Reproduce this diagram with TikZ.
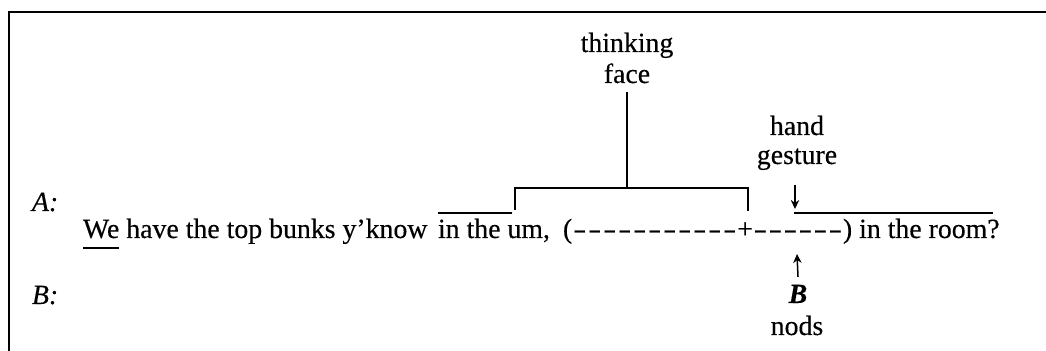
\documentclass[tikz,border=0pt]{standalone}
\usepackage{fontspec}
\setmainfont{Liberation Serif}[FakeBold=0.35]
\usepackage{graphicx}
\usetikzlibrary{arrows.meta,calc}
\newcommand{\dsh}{\makebox[7.5pt]{\scalebox{0.72}[1]{\textbf{\textendash}}}}
\begin{document}
\begin{tikzpicture}[x=0.5pt,y=-0.5pt,
  txt/.style={inner sep=0pt, outer sep=0pt, anchor=base west, font=\fontsize{13.9pt}{15.5pt}\selectfont},
  lbl/.style={inner sep=0pt, outer sep=0pt, anchor=base, font=\fontsize{13.9pt}{15.5pt}\selectfont},
  frame/.style={line width=1pt},
  bar/.style={line width=0.65pt},
  arr/.style={-{Stealth[length=4.5pt,width=4.2pt]}, line width=0.75pt}]
\useasboundingbox (0,0) rectangle (1046,351);
% frame
\coordinate (ftr) at (1046,12);
\coordinate (ftl) at (9,12);
\coordinate (fbl) at (9,351);
\draw[frame] (ftr) -- (ftl) -- (fbl);
% speaker labels
\node[txt] (A) at (32,211) {\textit{A:}};
\node[txt] (B) at (32,304) {\textit{B:}};
% main line
\node[txt] (we) at (83,238) {We};
\node[txt] (s2) at (we.base east) {\ have the top bunks y'know};
\node[txt] (inthe) at (438,238) {in the};
\node[txt] (um) at (inthe.base east) {\ um,};
\node[txt] (lp) at (563,238) {(};
\node[txt] (dA) at (lp.base east) {\dsh\dsh\dsh\dsh\dsh\dsh\dsh\dsh\dsh\dsh\dsh};
\node[txt] (plus) at (dA.base east) {+};
\node[txt] (dB) at (plus.base east) {\dsh\dsh\dsh\dsh\dsh\dsh};
\node[txt] (rp) at (dB.base east) {)};
\node[txt] (room) at (rp.base east) {\ in the room?};
% underline of We
\draw[bar] ($(we.base west)+(0,10)$) -- ($(we.base east)+(0,10)$);
% overline and bracket
\coordinate (ol1) at (438,213);
\coordinate (ol2) at (512,213);
\draw[bar] (ol1) -- (ol2);
\coordinate (brl) at (515,210);
\coordinate (brtl) at (515,188);
\coordinate (brtop) at (627,188);
\coordinate (brtr) at (748,188);
\coordinate (brr) at (748,211);
\draw[bar] (brl) -- (brtl) -- (brtr) -- (brr);
% thinking face
\node[lbl] (think) at (627,52) {thinking};
\node[lbl] (face) at (627,83) {face};
\draw[bar] ([yshift=-4.5pt]face.south) -- (brtop);
% hand gesture
\node[lbl] (hand) at (797,135) {hand};
\node[lbl] (gest) at (797,164) {gesture};
\coordinate (hgtip) at (795,209);
\draw[arr] (795,185) -- (hgtip);
\coordinate (ol3) at (794,213);
\coordinate (ol4) at (993,213);
\draw[bar] (ol3) -- (ol4);
% B nods
\node[lbl] (Bn) at (798,303) {\textbf{\textit{B}}};
\node[lbl] (nods) at (797,335) {nods};
\coordinate (uptip) at (797,254);
\draw[arr] ([yshift=4pt]Bn.north) -- (uptip);
\end{tikzpicture}
\end{document}
